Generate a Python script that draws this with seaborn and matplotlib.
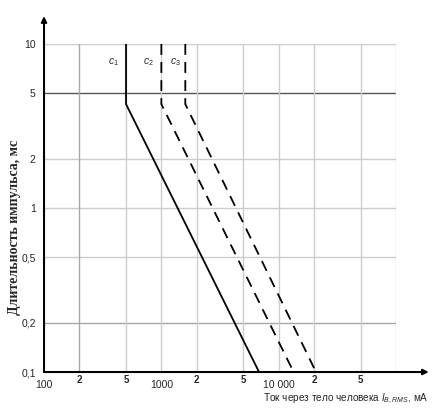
import numpy as np
import pandas as pd
import matplotlib
matplotlib.use("Agg")
import matplotlib.pyplot as plt
import seaborn as sns

# curves c1..c3: body current (mA) vs pulse duration (ms)
current_c1 = [500, 500, 6800]
current_c2 = [1000, 1000, 13400]
current_c3 = [1600, 1600, 20800]
duration = [10, 4.3, 0.1]
curve_names = ["c1", "c2", "c3"]

y_ticks = [0.1, 0.2, 0.5, 1, 2, 5, 10]
y_labels = ["0,1", "0,2", "0,5", "1", "2", "5", "10"]
x_major = [100, 1000, 10000, 100000]
x_major_labels = ["100", "1000", "10 000", ""]
x_minor = [200, 500, 2000, 5000, 20000, 50000]
x_minor_labels = ["2", "5", "2", "5", "2", "5"]

sns.set_style("white")
plt.rcParams["font.family"] = ["Liberation Sans", "DejaVu Sans"]
plt.rcParams["mathtext.fontset"] = "custom"
plt.rcParams["mathtext.it"] = "Liberation Sans:italic"
plt.rcParams["mathtext.rm"] = "Liberation Sans"

df = pd.DataFrame({
    "current": current_c1 + current_c2 + current_c3,
    "duration": duration * 3,
    "curve": [n for n in curve_names for _ in duration],
})

fig = plt.figure(figsize=(4.32, 4.18), dpi=100)
ax = fig.add_axes([0.1019, 0.110, 0.8148, 0.7847])
ax.set_xscale("log")
ax.set_yscale("log")
ax.set_xlim(100, 100000)
ax.set_ylim(0.1, 10)

# grid
for yv in y_ticks[1:]:
    col = "#555555" if yv == 5 else ("#a8a8a8" if yv == 0.2 else "#cccccc")
    ax.axhline(yv, color=col, lw=1.0, zorder=1)
for xv in x_major[1:] + x_minor:
    col = "#a8a8a8" if xv == 200 else "#cccccc"
    ax.axvline(xv, color=col, lw=1.0, zorder=1)

sns.lineplot(data=df, x="current", y="duration", hue="curve", style="curve",
             palette=["black"] * 3, dashes=[(None, None), (6, 4), (6, 4)],
             sort=False, estimator=None, lw=1.3, legend=False, ax=ax, zorder=3)

label_x = [390, 775, 1320]
for name, lx in zip(curve_names, label_x):
    ax.text(lx, 7.8, f"$c_{name[1]}$", ha="center", va="center", fontsize=7.5)

for s in ["top", "right", "left", "bottom"]:
    ax.spines[s].set_visible(False)
# axes with arrows
ax.annotate("", xy=(0, 1.085), xytext=(0, 0), xycoords="axes fraction",
            arrowprops=dict(arrowstyle="-|>", color="black", lw=1.5,
                            mutation_scale=8, shrinkA=0, shrinkB=0))
ax.annotate("", xy=(1.093, 0), xytext=(0, 0), xycoords="axes fraction",
            arrowprops=dict(arrowstyle="-|>", color="black", lw=1.5,
                            mutation_scale=8, shrinkA=0, shrinkB=0))

ax.set_yticks(y_ticks)
ax.set_yticklabels(y_labels)
ax.yaxis.set_minor_locator(matplotlib.ticker.NullLocator())
ax.set_xticks(x_major)
ax.set_xticklabels(x_major_labels)
ax.set_xticks(x_minor, minor=True)
ax.set_xticklabels(x_minor_labels, minor=True, fontweight="bold", fontsize=7)
ax.tick_params(axis="y", length=0, pad=6, labelsize=7.5)
ax.tick_params(axis="x", which="major", length=0, pad=5.5, labelsize=7.5)
ax.tick_params(axis="x", which="minor", length=0, pad=2)

ax.set_xlabel("")
ax.set_ylabel("")
fig.text(0.034, 0.455, "Длительность импульса, мс", rotation=90, ha="center",
         va="center", fontsize=10, fontweight="bold", family="Liberation Serif")
fig.text(0.992, 0.045, "Ток через тело человека $I_{B,RMS}$, мА", ha="right",
         va="center", fontsize=7.2)

fig.savefig("out.png", dpi=100)
